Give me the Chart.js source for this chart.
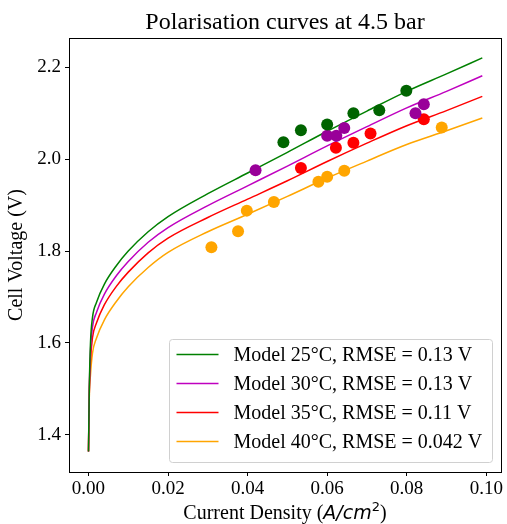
<!DOCTYPE html>
<html>
<head>
<meta charset="utf-8">
<script src="https://cdn.jsdelivr.net/npm/chart.js@4.4.0/dist/chart.umd.min.js"></script>
<style>
  body { margin: 0; background: #fff; }
  canvas { display: block; }
</style>
</head>
<body>
<canvas id="polChart" width="507" height="524"></canvas>
<script>
// model curves
const xGrid = [0, 0.0002, 0.0005, 0.001, 0.002, 0.004, 0.007, 0.01, 0.015, 0.02, 0.03, 0.04, 0.05, 0.06, 0.07, 0.08, 0.09, 0.099];
const model25 = [1.363, 1.50, 1.60, 1.655, 1.688, 1.728, 1.768, 1.800, 1.842, 1.875, 1.925, 1.970, 2.015, 2.061, 2.105, 2.148, 2.186, 2.221];
const model30 = [1.363, 1.495, 1.582, 1.634, 1.666, 1.706, 1.746, 1.777, 1.819, 1.851, 1.899, 1.942, 1.985, 2.029, 2.071, 2.112, 2.148, 2.182];
const model35 = [1.363, 1.49, 1.56, 1.611, 1.643, 1.683, 1.723, 1.754, 1.796, 1.828, 1.873, 1.913, 1.953, 1.995, 2.035, 2.073, 2.106, 2.137];
const model40 = [1.363, 1.48, 1.53, 1.577, 1.610, 1.650, 1.690, 1.722, 1.764, 1.797, 1.842, 1.880, 1.919, 1.959, 1.996, 2.032, 2.062, 2.090];

// measured points
const exp25X = [0.049, 0.0534, 0.060, 0.0666, 0.0731, 0.0799];
const exp25Y = [2.037, 2.063, 2.0755, 2.100, 2.107, 2.149];
const exp30X = [0.042, 0.060, 0.0623, 0.0643, 0.0822, 0.0843];
const exp30Y = [1.976, 2.051, 2.051, 2.068, 2.100, 2.120];
const exp35X = [0.0534, 0.0622, 0.0666, 0.0709, 0.0843];
const exp35Y = [1.981, 2.025, 2.036, 2.056, 2.087];
const exp40X = [0.0309, 0.0376, 0.0398, 0.0466, 0.0578, 0.060, 0.0643, 0.0888];
const exp40Y = [1.808, 1.843, 1.888, 1.907, 1.951, 1.962, 1.975, 2.069];

const labels = ['Model 25°C, RMSE = 0.13 V', 'Model 30°C, RMSE = 0.13 V', 'Model 35°C, RMSE = 0.11 V', 'Model 40°C, RMSE = 0.042 V'];
const xTicks = [0, 0.02, 0.04, 0.06, 0.08, 0.10];
const yTicks = [1.4, 1.6, 1.8, 2.0, 2.2];

const lineColors = ['#008000', '#bf00bf', '#ff0000', '#ffa500'];
const dotColors = ['#006400', '#990099', '#ff0000', '#ffa500'];
const FONT = '"Liberation Serif", "Times New Roman", serif';
const MATH = '"DejaVu Sans", sans-serif';

const pts = (xs, ys) => xs.map((x, i) => ({ x: x, y: ys[i] }));

const modelSets = [model25, model30, model35, model40].map((m, i) => ({
    type: 'line',
    label: labels[i],
    data: pts(xGrid, m),
    borderColor: lineColors[i],
    borderWidth: 1.5,
    pointRadius: 0,
    fill: false,
    cubicInterpolationMode: 'monotone',
    order: 2
}));

const expSets = [[exp25X, exp25Y], [exp30X, exp30Y], [exp35X, exp35Y], [exp40X, exp40Y]].map((e, i) => ({
    type: 'scatter',
    label: '',
    data: pts(e[0], e[1]),
    backgroundColor: dotColors[i],
    borderWidth: 0,
    pointRadius: 6,
    order: 1
}));

// frame, title, x label with math part, and legend box (matplotlib style)
const decor = {
    id: 'decor',
    afterDraw(chart) {
        const ctx = chart.ctx;
        const a = chart.chartArea;
        const cx = (a.left + a.right) / 2;
        ctx.save();
        ctx.strokeStyle = '#000';
        ctx.lineWidth = 1;
        ctx.strokeRect(Math.round(a.left) + 0.5, Math.round(a.top) + 0.5, Math.round(a.right - a.left), Math.round(a.bottom - a.top));

        ctx.fillStyle = '#000';
        ctx.font = '24px ' + FONT;
        ctx.textAlign = 'center';
        ctx.textBaseline = 'middle';
        ctx.fillText('Polarisation curves at 4.5 bar', cx, 23);

        // x axis label: "Current Density ($A/cm^2$)"
        const parts = [
            { t: 'Current Density (', f: '20px ' + FONT, dy: 0 },
            { t: 'A/cm', f: 'italic 19px ' + MATH, dy: 0 },
            { t: '2', f: '13px ' + MATH, dy: -8 },
            { t: ')', f: '20px ' + FONT, dy: 0 }
        ];
        let total = 0;
        parts.forEach(p => { ctx.font = p.f; p.w = ctx.measureText(p.t).width; total += p.w; });
        let x = cx - total / 2;
        ctx.textAlign = 'left';
        ctx.textBaseline = 'alphabetic';
        parts.forEach(p => { ctx.font = p.f; ctx.fillText(p.t, x, 519 + p.dy); x += p.w; });

        // legend
        const w = 323, h = 123;
        const lx = a.right - 8.5 - w, ly = a.bottom - 9.5 - h;
        ctx.beginPath();
        ctx.roundRect(lx, ly, w, h, 3);
        ctx.fillStyle = 'rgba(255,255,255,0.8)';
        ctx.fill();
        ctx.strokeStyle = '#d0d0d0';
        ctx.stroke();
        ctx.font = '20px ' + FONT;
        ctx.textBaseline = 'middle';
        modelSets.forEach((d, i) => {
            const y = ly + 15 + i * 29;
            ctx.strokeStyle = d.borderColor;
            ctx.lineWidth = 1.5;
            ctx.beginPath();
            ctx.moveTo(lx + 7, y);
            ctx.lineTo(lx + 49, y);
            ctx.stroke();
            ctx.fillStyle = '#000';
            ctx.fillText(d.label, lx + 64, y + 1);
        });
        ctx.restore();
    }
};

new Chart(document.getElementById('polChart'), {
    data: { datasets: expSets.concat(modelSets) },
    options: {
        responsive: false,
        animation: false,
        devicePixelRatio: 1,
        layout: { padding: { top: 38, right: 2, left: 0, bottom: 0 } },
        plugins: {
            legend: { display: false },
            tooltip: { enabled: false },
            title: { display: false }
        },
        scales: {
            x: {
                type: 'linear',
                min: -0.0049,
                max: 0.1037,
                afterBuildTicks: s => { s.ticks = xTicks.map(v => ({ value: v })); },
                afterFit: s => { s.height = 52; },
                grid: { drawOnChartArea: false, drawTicks: true, tickLength: 4, color: '#000' },
                border: { display: false },
                ticks: {
                    color: '#000',
                    padding: 2,
                    maxRotation: 0,
                    font: { family: FONT, size: 19 },
                    callback: v => v.toFixed(2)
                },
                title: { display: false }
            },
            y: {
                type: 'linear',
                min: 1.3184,
                max: 2.2642,
                afterBuildTicks: s => { s.ticks = yTicks.map(v => ({ value: v })); },
                afterFit: s => { s.width = 69; },
                grid: { drawOnChartArea: false, drawTicks: true, tickLength: 4, color: '#000' },
                border: { display: false },
                ticks: {
                    color: '#000',
                    padding: 4,
                    font: { family: FONT, size: 19 },
                    callback: v => v.toFixed(1)
                },
                title: {
                    display: true,
                    text: 'Cell Voltage (V)',
                    color: '#000',
                    font: { family: FONT, size: 20 },
                    padding: { top: 5, bottom: 0 }
                }
            }
        }
    },
    plugins: [decor]
});
</script>
</body>
</html>
